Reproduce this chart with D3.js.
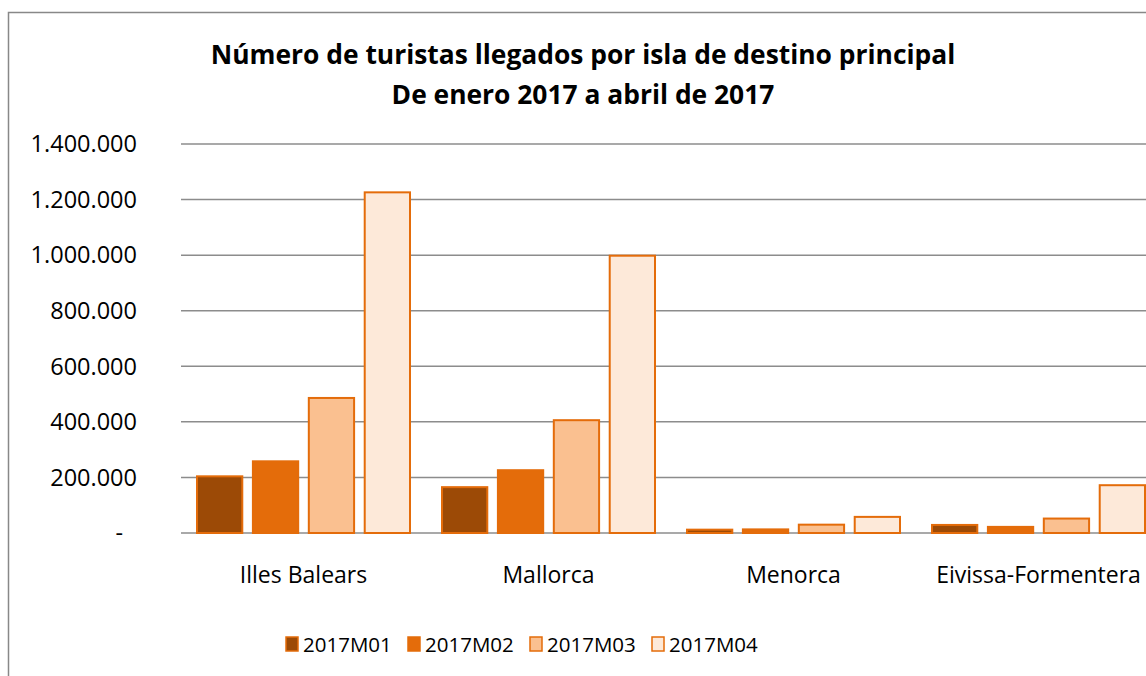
<!DOCTYPE html>
<html>
<head>
<meta charset="utf-8">
<script src="https://cdn.jsdelivr.net/npm/d3@7"></script>
<style>
  body { margin: 0; background: #fff; }
  svg { display: block; font-family: "Open Sans", sans-serif; }
</style>
</head>
<body>
<div id="chart"></div>
<script>
// data
const islands = ["Illes Balears", "Mallorca", "Menorca", "Eivissa-Formentera"];
const months = ["2017M01", "2017M02", "2017M03", "2017M04"];
const m01 = [204000, 165000, 12000, 29000];
const m02 = [258000, 226000, 13000, 22000];
const m03 = [486000, 406000, 30000, 52000];
const m04 = [1226000, 998000, 58000, 172000];
const yTicks = [0, 200000, 400000, 600000, 800000, 1000000, 1200000, 1400000];
const colors = ["#9c4a06", "#e46c0a", "#fac090", "#fde9d9"];

const series = [m01, m02, m03, m04];
const rows = islands.map((isl, i) => ({island: isl, values: series.map(s => s[i])}));

const W = 1146, H = 676;
const margin = {top: 144, right: -15, bottom: 143, left: 181};
const width = W - margin.left - margin.right;
const height = H - margin.top - margin.bottom;

const svg = d3.select("#chart").append("svg")
  .attr("width", W).attr("height", H);

// outer chart border (runs off the right and bottom edges)
svg.append("rect")
  .attr("x", 8.5).attr("y", 12.5)
  .attr("width", 1160).attr("height", 700)
  .attr("fill", "none").attr("stroke", "#888").attr("stroke-width", 1.5);

svg.append("text")
  .attr("x", 583).attr("y", 64)
  .attr("text-anchor", "middle")
  .style("font-weight", "bold").style("font-size", "26.4px")
  .text("Número de turistas llegados por isla de destino principal");
svg.append("text")
  .attr("x", 583).attr("y", 104)
  .attr("text-anchor", "middle")
  .style("font-weight", "bold").style("font-size", "26.4px")
  .text("De enero 2017 a abril de 2017");

const g = svg.append("g").attr("transform", `translate(${margin.left},${margin.top})`);

const x0 = d3.scaleBand().domain(islands).range([0, width]);
const x1 = d3.scaleBand().domain(months).range([16, x0.bandwidth() - 16]).paddingInner(0.19);
const y = d3.scaleLinear().domain([0, 1400000]).range([height, 0]);
const color = d3.scaleOrdinal().domain(months).range(colors);

const fmt = v => v === 0 ? "-" : d3.format(",")(v).replace(/,/g, ".");

// gridlines
g.append("g")
  .selectAll("line")
  .data(yTicks)
  .join("line")
  .attr("x1", 0).attr("x2", width)
  .attr("y1", d => y(d)).attr("y2", d => y(d))
  .attr("stroke", "#8c8c8c").attr("stroke-width", 1.5);

// y labels
g.append("g")
  .selectAll("text")
  .data(yTicks)
  .join("text")
  .attr("x", d => d === 0 ? -58 : -44)
  .attr("y", d => y(d))
  .attr("dy", "0.35em")
  .attr("text-anchor", "end")
  .style("font-size", "23.5px")
  .text(fmt);

// bars
g.append("g")
  .selectAll("g")
  .data(rows)
  .join("g")
  .attr("transform", d => `translate(${x0(d.island)},0)`)
  .selectAll("rect")
  .data(d => d.values.map((v, i) => ({key: months[i], value: v})))
  .join("rect")
  .attr("x", d => x1(d.key))
  .attr("y", d => y(d.value))
  .attr("width", x1.bandwidth())
  .attr("height", d => y(0) - y(d.value))
  .attr("fill", d => color(d.key))
  .attr("stroke", "#e46c0a")
  .attr("stroke-width", 2);

// category labels
g.append("g")
  .selectAll("text")
  .data(islands)
  .join("text")
  .attr("x", d => x0(d) + x0.bandwidth() / 2)
  .attr("y", height + 50)
  .attr("text-anchor", "middle")
  .style("font-size", "23px")
  .text(d => d);

// legend
const legend = svg.append("g")
  .selectAll("g")
  .data(months)
  .join("g")
  .attr("transform", (d, i) => `translate(${286 + i * 122},637)`);
legend.append("rect")
  .attr("width", 12).attr("height", 14)
  .attr("fill", d => color(d))
  .attr("stroke", "#e46c0a").attr("stroke-width", 1.5);
legend.append("text")
  .attr("x", 17).attr("y", 15)
  .style("font-size", "20.5px")
  .text(d => d);
</script>
</body>
</html>
